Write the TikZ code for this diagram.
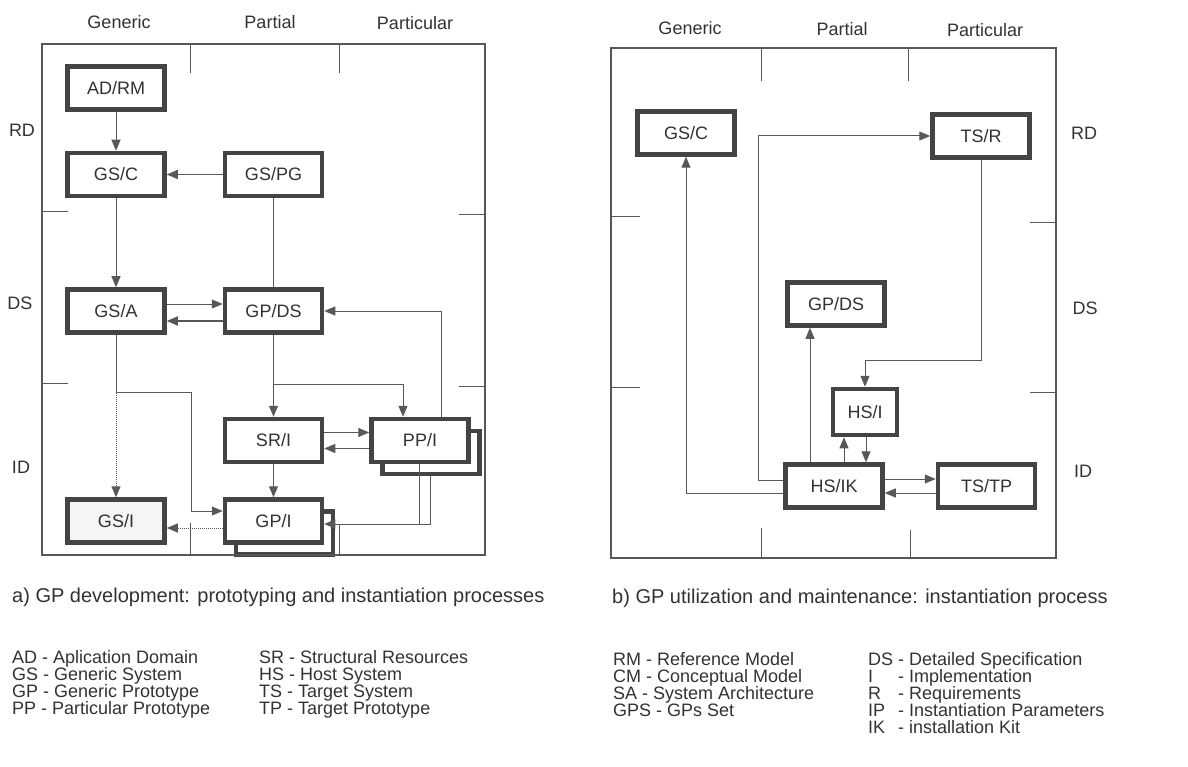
\documentclass[tikz,border=0pt]{standalone}
\usepackage{fontspec}
\setmainfont{Liberation Sans}
\usepackage{xcolor}
\definecolor{bxgray}{RGB}{68,68,68}
\definecolor{lngray}{RGB}{88,88,88}
\definecolor{txgray}{RGB}{50,50,50}
\usetikzlibrary{positioning,arrows.meta,calc,backgrounds}
\newcommand{\lgab}[1]{\makebox[25pt][l]{#1}}

\begin{document}
\begin{tikzpicture}[
  x=1pt,y=-1pt,
  font={\fontsize{18}{15.6}\selectfont},
  text=txgray,
  >={Triangle[length=11pt,width=9pt]},
  box/.style={draw=bxgray,line width=4.5pt,fill=white,minimum width=97pt,minimum height=43pt,inner sep=0pt},
  ar/.style={->,lngray,line width=1pt},
  ln/.style={lngray,line width=1pt},
  frm/.style={lngray,line width=1.6pt},
  tk/.style={lngray,line width=1pt},
  captxt/.style={anchor=base west,inner sep=0pt,font={\fontsize{20}{22}\selectfont}},
  lgd/.style={anchor=north west,align=left,inner sep=0pt,font={\fontsize{18}{17}\selectfont\lineskiplimit=-20pt}},
]
\useasboundingbox (0,0) rectangle (1188,767);

% a) development panel
\draw[frm] (42,44) rectangle (485,555);
\draw[tk] (190,44) -- (190,73) (339,44) -- (339,73) (190,523) -- (190,555) (339,524) -- (339,555);
\draw[tk] (42,212) -- (68,212) (42,383) -- (68,383) (459,215) -- (485,215) (459,386) -- (485,386);
\node (lgen) at (119,22) {Generic};
\node (lpar) at (270,22) {Partial};
\node (lptc) at (415,23) {Particular};
\node (lrd) at (22,130) {RD};
\node (lds) at (20,303) {DS};
\node (lid) at (21,467) {ID};

\node[box] (adrm) at (116,88) {AD/RM};
\node[box,below=39pt of adrm] (gsc) {GS/C};
\node[box,right=56pt of gsc] (gspg) {GS/PG};
\node[box,below=89pt of gsc] (gsa) {GS/A};
\node[box,right=56pt of gsa] (gpds) {GP/DS};
\node[box,below=82pt of gpds] (sri) {SR/I};
\node[box,right=45pt of sri] (ppi) {PP/I};
\node[box,below=33pt of sri] (gpi) {GP/I};
\node[box,fill=black!4,left=56pt of gpi] (gsi) {GS/I};
\begin{scope}[on background layer]
  \node[box] (ppib) at ($(ppi)+(11,12)$) {};
  \node[box] (gpib) at ($(gpi)+(11,12)$) {};
\end{scope}

\draw[ar] (adrm) -- (gsc);
\draw[ar] (gspg) -- (gsc);
\draw[ar] (gsc) -- (gsa);
\draw[ln] (gspg) -- (gpds);
\draw[ar] ([yshift=7pt]gsa.east) -- ([yshift=7pt]gpds.west);
\draw[ar,line width=1.8pt] ([yshift=-10pt]gpds.west) -- ([yshift=-10pt]gsa.east);
\draw[ar] ([xshift=21pt]ppi.north) |- (gpds.east);
\draw[ar] (gpds) -- (sri);
\coordinate (br1) at ($(gpds.south)+(0,50)$);
\draw[ar] (br1) -| ([xshift=-17pt]ppi.north);
\draw[ar] ([yshift=8pt]sri.east) -- ([yshift=8pt]ppi.west);
\draw[ar] ([yshift=-8pt]ppi.west) -- ([yshift=-8pt]sri.east);
\draw[ar] (sri) -- (gpi);
\coordinate (br2) at ($(gsa.south)+(0,58)$);
\draw[ln] (gsa) -- (br2);
\draw[ar,densely dotted] (br2) -- (gsi);
\draw[ar] (br2) -- ++(75,0) |- ([yshift=10pt]gpi.west);
\draw[ar,densely dotted] ([yshift=-7pt]gpi.west) -- ([yshift=-7pt]gsi.east);
\coordinate (gpiin) at ([yshift=-3pt]gpi.east);
\draw[ar] ([xshift=-1pt]ppib.south) |- (gpiin);
\draw[ln] ([xshift=-1pt]ppi.south) -- ([xshift=-1pt]ppi.south |- gpiin);

% b) utilization panel
\draw[frm] (611,48) rectangle (1056,558);
\draw[tk] (761,48) -- (761,81) (908,48) -- (908,81) (761,528) -- (761,558) (910,530) -- (910,558);
\draw[tk] (611,217) -- (640,217) (611,387) -- (640,387) (1030,223) -- (1056,223) (1030,392) -- (1056,392);
\node (rgen) at (690,28) {Generic};
\node (rpar) at (842,29) {Partial};
\node (rptc) at (985,30) {Particular};
\node (rrd) at (1084,133) {RD};
\node (rds) at (1085,308) {DS};
\node (rid) at (1083,471) {ID};

\node[box] (rgsc) at (686,133) {GS/C};
\node[box] (tsr) at (981,136) {TS/R};
\node[box] (rgpds) at (836,304) {GP/DS};
\node[box,minimum width=64pt,minimum height=46pt] (hsi) at (865,412) {HS/I};
\node[box] (hsik) at (834,486) {HS/IK};
\node[box,right=51pt of hsik] (tstp) {TS/TP};

\draw[ar] ([yshift=-7pt]hsik.west) -| (rgsc);
\draw[ar] ([yshift=6pt]hsik.west) -- ++(-24.5,0) |- (tsr);
\draw[ar] (tsr.south) -- ++(0,200.5) -| (hsi.north);
\draw[ar] ([xshift=-24pt]hsik.north) -- ([xshift=-24pt]hsik.north |- rgpds.south);
\draw[ar] ([xshift=10pt]hsik.north) -- ([xshift=10pt]hsik.north |- hsi.south);
\draw[ar] ([xshift=32pt]hsik.north |- hsi.south) -- ([xshift=32pt]hsik.north);
\draw[ar] ([yshift=7pt]hsik.east) -- ([yshift=7pt]tstp.west);
\draw[ar] ([yshift=-7pt]tstp.west) -- ([yshift=-7pt]hsik.east);

% captions and legend
\node[captxt] (capa) at (12,602) {a) GP development: prototyping and instantiation processes};
\node[captxt] (capb) at (612,603) {b) GP utilization and maintenance: instantiation process};
\node[lgd] (lega) at (12,650) {AD - Aplication Domain\\GS - Generic System\\GP - Generic Prototype\\PP - Particular Prototype};
\node[lgd] (legb) at (259,650) {SR - Structural Resources\\HS - Host System\\TS - Target System\\TP - Target Prototype};
\node[lgd] (legc) at (613,652) {RM - Reference Model\\CM - Conceptual Model\\SA - System Architecture\\GPS - GPs Set};
\node[lgd] (legd) at (868,652) {\lgab{DS} - Detailed Specification\\\lgab{I} - Implementation\\\lgab{R} - Requirements\\\lgab{IP} - Instantiation Parameters\\\lgab{IK} - installation Kit};
\end{tikzpicture}
\end{document}
